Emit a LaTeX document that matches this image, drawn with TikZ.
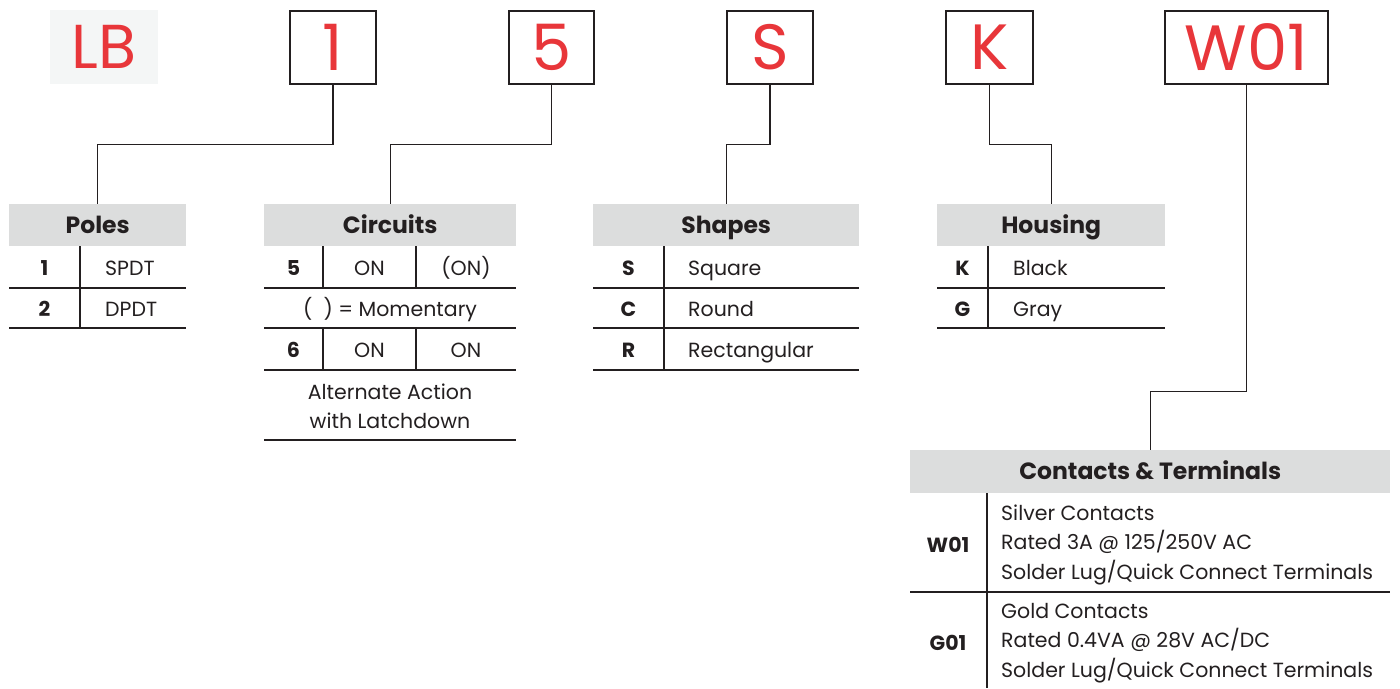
\documentclass[tikz,border=0pt]{standalone}
\usepackage{fontspec}
\setmainfont{Poppins}
\usetikzlibrary{positioning, calc}
\definecolor{codered}{RGB}{232,54,58}
\definecolor{hdrgray}{RGB}{220,221,221}
\definecolor{lbgray}{RGB}{244,246,246}
\definecolor{ink}{RGB}{35,31,32}

\begin{document}
\begin{tikzpicture}[
        x=1pt, y=-1pt,
        codebox/.style={rectangle, draw=ink, line width=2.4pt, minimum height=73pt, inner sep=0pt, text=codered, font=\fontsize{64}{64}\selectfont},
        hdr/.style={rectangle, fill=hdrgray, minimum height=42pt, inner sep=0pt, anchor=north west, text=ink, text height=16.5pt, text depth=0pt, font=\fontsize{23.5}{23.5}\selectfont\bfseries},
        key/.style={inner sep=0pt, text=ink, text height=14.4pt, text depth=0pt, font=\fontsize{20.5}{20.5}\selectfont\bfseries},
        desc/.style={inner sep=0pt, text=ink, text height=14.4pt, text depth=0pt, font=\fontsize{20.5}{20.5}\selectfont},
        multi/.style={inner sep=0pt, text=ink, align=left, anchor=west, font=\fontsize{20.5}{29.5}\selectfont},
        line/.style={draw=ink, line width=1.2pt},
        rule/.style={draw=ink, line width=1.3pt}
    ]
        \useasboundingbox (0,0) rectangle (1400,688);

        % Part number code
        \node [rectangle, fill=lbgray, minimum width=108pt, minimum height=74pt, text=codered, font=\fontsize{62}{62}\selectfont] (code_lb) at (104,47) {LB};
        \node [codebox, minimum width=86pt] (box_poles) at (333,47.5) {1};
        \node [codebox, minimum width=85pt] (box_circuits) at (551.5,47.5) {5};
        \node [codebox, minimum width=86pt] (box_shapes) at (770,47.5) {S};
        \node [codebox, minimum width=87pt] (box_housing) at (989.5,47.5) {K};
        \node [codebox, minimum width=163pt] (box_contacts) at (1246.5,47.5) {W01};

        % Headers
        \node [hdr, minimum width=177pt] (hdr_poles) at (9,204) {Poles};
        \node [hdr, minimum width=252pt] (hdr_circuits) at (264,204) {Circuits};
        \node [hdr, minimum width=266pt] (hdr_shapes) at (593,204) {Shapes};
        \node [hdr, minimum width=228pt] (hdr_housing) at (937,204) {Housing};
        \node [hdr, minimum width=480pt, minimum height=43pt] (hdr_contacts) at (910,450) {Contacts \& Terminals};

        % Poles
        \node [key] (pole_k1) at (44.5,268) {1};
        \node [desc, anchor=west] (pole_d1) at (105,268) {SPDT};
        \node [key] (pole_k2) at (44.5,309) {2};
        \node [desc, anchor=west] (pole_d2) at (105,309) {DPDT};
        \draw [rule] (80,246) -- (80,328);
        \draw [rule] (9,288) -- (186,288);
        \draw [rule] (9,328) -- (186,328);

        % Circuits
        \node [key] (circ_k5) at (293.5,268) {5};
        \node [desc] (circ_on5) at (369.5,268) {ON};
        \node [desc] (circ_mom5) at (466,268) {(ON)};
        \node [desc] (circ_note) at (390,309) {(\hspace{0.55em}) = Momentary};
        \node [key] (circ_k6) at (293.5,350) {6};
        \node [desc] (circ_on6a) at (369.5,350) {ON};
        \node [desc] (circ_on6b) at (466,350) {ON};
        \node [desc, align=center, text height=, text depth=, font=\fontsize{20.5}{29}\selectfont] (circ_alt) at (390,406) {Alternate Action\\with Latchdown};
        \draw [rule] (323,246) -- (323,288);
        \draw [rule] (416,246) -- (416,288);
        \draw [rule] (323,328) -- (323,370);
        \draw [rule] (416,328) -- (416,370);
        \draw [rule] (264,288) -- (516,288);
        \draw [rule] (264,328) -- (516,328);
        \draw [rule] (264,370) -- (516,370);
        \draw [rule] (264,440) -- (516,440);

        % Shapes
        \node [key] (shape_ks) at (628.5,268) {S};
        \node [desc, anchor=west] (shape_ds) at (688,268) {Square};
        \node [key] (shape_kc) at (628.5,309) {C};
        \node [desc, anchor=west] (shape_dc) at (688,309) {Round};
        \node [key] (shape_kr) at (628.5,350) {R};
        \node [desc, anchor=west] (shape_dr) at (688,350) {Rectangular};
        \draw [rule] (664,246) -- (664,370);
        \draw [rule] (593,288) -- (859,288);
        \draw [rule] (593,328) -- (859,328);
        \draw [rule] (593,370) -- (859,370);

        % Housing
        \node [key] (house_kk) at (962.5,268) {K};
        \node [desc, anchor=west] (house_dk) at (1013,268) {Black};
        \node [key] (house_kg) at (962.5,309) {G};
        \node [desc, anchor=west] (house_dg) at (1013,309) {Gray};
        \draw [rule] (988,246) -- (988,328);
        \draw [rule] (937,288) -- (1165,288);
        \draw [rule] (937,328) -- (1165,328);

        % Contacts & Terminals
        \node [key] (cont_kw) at (948,545) {W01};
        \node [multi] (cont_dw) at (1001,544.5) {Silver Contacts\\Rated 3A @ 125/250V AC\\Solder Lug/Quick Connect Terminals};
        \node [key] (cont_kg) at (948,643) {G01};
        \node [multi] (cont_dg) at (1001,643) {Gold Contacts\\Rated 0.4VA @ 28V AC/DC\\Solder Lug/Quick Connect Terminals};
        \draw [rule] (987,493) -- (987,688);
        \draw [rule] (910,592) -- (1390,592);

        % Paths
        \draw [line] (box_poles.south) -- ++(0,59) -| (hdr_poles.north);
        \draw [line] (box_circuits.south) -- ++(0,59) -| (hdr_circuits.north);
        \draw [line] (box_shapes.south) -- ++(0,59) -| (hdr_shapes.north);
        \draw [line] (box_housing.south) -- ++(0,59) -| (hdr_housing.north);
        \draw [line] (box_contacts.south) -- ++(0,306) -| (hdr_contacts.north);

    \end{tikzpicture}
\end{document}
